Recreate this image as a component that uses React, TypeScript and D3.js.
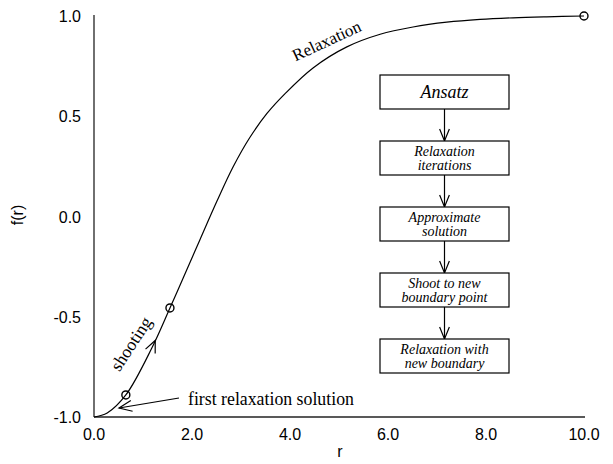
import React from "react";
import * as d3 from "d3";

// Solution profile f(r)
const rValues = [0, 0.27, 0.65, 1.18, 1.55, 1.82, 2.16, 2.51, 2.84, 3.18, 3.53, 3.9, 4.47, 5.16, 5.84, 6.51, 7.2, 7.88, 8.55, 9.24, 10];
const fValues = [-1, -0.98, -0.89, -0.656, -0.456, -0.307, -0.117, 0.077, 0.248, 0.394, 0.514, 0.613, 0.741, 0.846, 0.909, 0.945, 0.969, 0.983, 0.991, 0.996, 1.0];

// Boundary points marked with circles
const markR = [0.65, 1.55, 10];
const markF = [-0.89, -0.456, 1.0];

const xTicks = [0, 2, 4, 6, 8, 10];
const yTicks = [-1, -0.5, 0, 0.5, 1];

const flowSteps = [
  ["Ansatz"],
  ["Relaxation", "iterations"],
  ["Approximate", "solution"],
  ["Shoot to new", "boundary point"],
  ["Relaxation with", "new boundary"],
];

const W = 613;
const H = 464;
const SANS = "'Liberation Sans', Arial, sans-serif";
const SERIF = "'Liberation Serif', 'Times New Roman', serif";

function chevron(tipX: number, tipY: number, dirX: number, dirY: number, len: number, half: number) {
  // dir points from tail toward tip
  const n = Math.hypot(dirX, dirY);
  const bx = -dirX / n, by = -dirY / n;
  const a = (half * Math.PI) / 180;
  const rot = (s: number) => [bx * Math.cos(s) - by * Math.sin(s), bx * Math.sin(s) + by * Math.cos(s)];
  const [w1x, w1y] = rot(a);
  const [w2x, w2y] = rot(-a);
  return `M${tipX + w1x * len},${tipY + w1y * len}L${tipX},${tipY}L${tipX + w2x * len},${tipY + w2y * len}`;
}

export default function App() {
  const x = d3.scaleLinear().domain([0, 10]).range([94, 584]);
  const y = d3.scaleLinear().domain([-1, 1]).range([417, 16]);

  const pts: [number, number][] = rValues.map((r, i) => [r, fValues[i]]);
  const line = d3
    .line<[number, number]>()
    .x((d) => x(d[0]))
    .y((d) => y(d[1]))
    .curve(d3.curveCatmullRom.alpha(0.5));

  // direction along the curve for the "shooting" arrow
  const interp = (r: number) => {
    const i = d3.bisectRight(rValues, r) - 1;
    const t = (r - rValues[i]) / (rValues[i + 1] - rValues[i]);
    return fValues[i] + t * (fValues[i + 1] - fValues[i]);
  };
  const shootR = 1.25;
  const sx = x(shootR), sy = y(interp(shootR));
  const dx = x(shootR + 0.05) - x(shootR - 0.05);
  const dy = y(interp(shootR + 0.05)) - y(interp(shootR - 0.05));

  const boxX = 380, boxW = 129, boxH = 34, boxTop0 = 75, boxStep = 66;
  const midX = boxX + boxW / 2;

  return (
    <svg width={W} height={H} style={{ position: "absolute", left: 0, top: 0, background: "#fff" }}>
      {/* axes */}
      <line x1={x(0)} x2={x(0)} y1={15} y2={y(-1)} stroke="#222" strokeWidth={1.3} />
      <line x1={x(0)} x2={585} y1={y(-1)} y2={y(-1)} stroke="#222" strokeWidth={1.3} />
      {xTicks.map((t) => (
        <text key={t} x={x(t)} y={440} fontFamily={SANS} fontSize={16} textAnchor="middle" fill="#000">
          {t.toFixed(1)}
        </text>
      ))}
      {yTicks.map((t) => (
        <text key={t} x={81} y={y(t) + 6} fontFamily={SANS} fontSize={16} textAnchor="end" fill="#000">
          {t.toFixed(1)}
        </text>
      ))}
      <text x={340} y={457} fontFamily={SANS} fontSize={16} textAnchor="middle">r</text>
      <text transform="translate(23,215) rotate(-90)" fontFamily={SANS} fontSize={16} textAnchor="middle">f(r)</text>

      {/* solution curve */}
      <path d={line(pts) ?? ""} fill="none" stroke="#000" strokeWidth={1.2} />
      {markR.map((r, i) => (
        <circle key={i} cx={x(r)} cy={y(markF[i])} r={4} fill="none" stroke="#000" strokeWidth={1.4} />
      ))}

      {/* shooting arrow */}
      <path d={chevron(sx, sy, dx, dy, 13, 24)} fill="none" stroke="#000" strokeWidth={1.2} />
      <text transform="translate(136,347) rotate(-57)" fontFamily={SERIF} fontSize={17.5} textAnchor="middle">shooting</text>

      {/* first relaxation solution */}
      <line x1={179} y1={398} x2={119} y2={408} stroke="#000" strokeWidth={1.2} />
      <path d={chevron(119, 408, -60, 10, 14, 23)} fill="none" stroke="#000" strokeWidth={1.2} />
      <text x={188} y={405} fontFamily={SERIF} fontSize={17.8}>first relaxation solution</text>

      <text transform="translate(329,46) rotate(-25)" fontFamily={SERIF} fontSize={17} textAnchor="middle">Relaxation</text>

      {/* flowchart */}
      {flowSteps.map((lines, i) => {
        const top = boxTop0 + i * boxStep;
        const cy = top + boxH / 2;
        const big = lines.length === 1;
        const fs = big ? 18 : 14;
        return (
          <g key={i}>
            <rect x={boxX} y={top} width={boxW} height={boxH} fill="#fff" stroke="#000" strokeWidth={1.2} />
            {lines.map((t, j) => {
              const off = big ? 0 : (j - (lines.length - 1) / 2) * 14;
              return (
                <text key={j} x={midX} y={cy + off + fs * 0.33} fontFamily={SERIF} fontStyle="italic" fontSize={fs} textAnchor="middle">
                  {t}
                </text>
              );
            })}
            {i < flowSteps.length - 1 && (
              <g>
                <line x1={midX} x2={midX} y1={top + boxH} y2={top + boxStep} stroke="#000" strokeWidth={1.2} />
                <path d={chevron(midX, top + boxStep, 0, 1, 13, 22)} fill="none" stroke="#000" strokeWidth={1.2} />
              </g>
            )}
          </g>
        );
      })}
    </svg>
  );
}
